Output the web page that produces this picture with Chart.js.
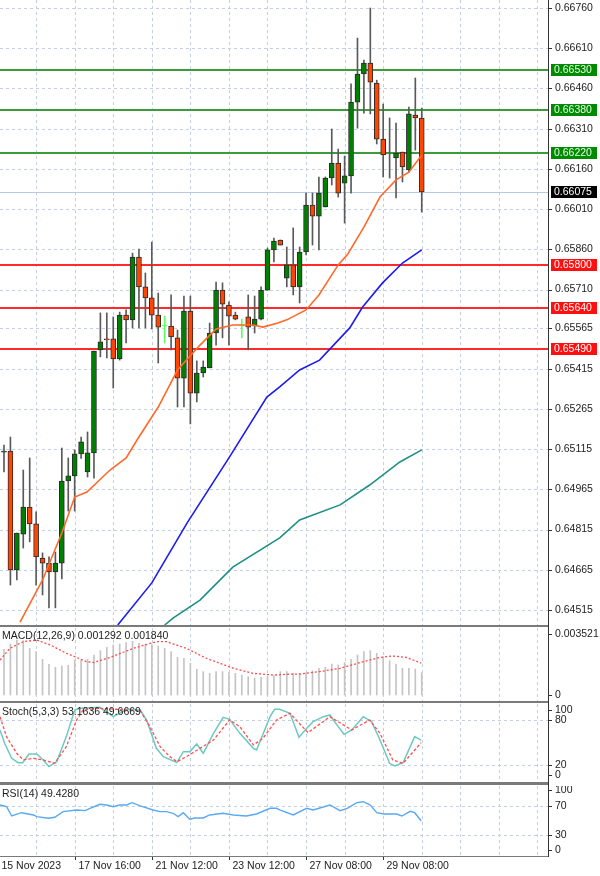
<!DOCTYPE html>
<html><head><meta charset="utf-8">
<script src="https://cdn.jsdelivr.net/npm/chart.js@4.4.0/dist/chart.umd.min.js"></script>
<style>
body{margin:0;background:#fff;width:600px;height:876px;overflow:hidden;position:relative;font-family:"Liberation Sans",Arial,sans-serif}
canvas{position:absolute;left:0}
.sep{position:absolute;left:0;width:549px;background:#7a7a7a}
</style></head><body>
<canvas id="cMain" width="600" height="625" style="top:0px"></canvas>
<canvas id="cMacd" width="600" height="73" style="top:628px"></canvas>
<canvas id="cSto" width="600" height="78" style="top:704px"></canvas>
<canvas id="cRsi" width="600" height="90" style="top:786px"></canvas>
<div class="sep" style="top:625px;height:2px"></div>
<div class="sep" style="top:701px;height:2px"></div>
<div class="sep" style="top:782px;height:3px"></div>
<div class="sep" style="top:856px;height:1px"></div>
<div style="position:absolute;left:548px;top:0;width:1px;height:857px;background:#333"></div>
<script>
const openP=[0.65104,0.65108,0.64664,0.64798,0.64899,0.64836,0.64709,0.64690,0.64657,0.64690,
0.64996,0.65015,0.65097,0.65030,0.65101,0.65485,0.65526,0.65526,0.65451,0.65615,
0.65597,0.65831,0.65720,0.65679,0.65615,0.65574,0.65574,0.65530,0.65380,0.65630,
0.65324,0.65399,0.65418,0.65548,0.65708,0.65652,0.65615,0.65574,0.65608,0.65574,
0.65600,0.65708,0.65858,0.65895,0.65753,0.65802,0.65720,0.65850,0.66025,0.65984,
0.66018,0.66126,0.66182,0.66107,0.66134,0.66409,0.66514,0.66555,0.66480,0.66271,
0.66208,0.66201,0.66223,0.66156,0.66361,0.66350];
const highP=[0.65130,0.65160,0.64802,0.65037,0.65082,0.64881,0.64728,0.64713,0.64731,0.65119,
0.65082,0.65112,0.65160,0.65179,0.65481,0.65623,0.65623,0.65608,0.65626,0.65634,
0.65846,0.65861,0.65772,0.65887,0.65697,0.65611,0.65690,0.65559,0.65686,0.65686,
0.65444,0.65444,0.65585,0.65738,0.65735,0.65664,0.65626,0.65600,0.65690,0.65686,
0.65720,0.65865,0.65902,0.65895,0.65869,0.65940,0.65869,0.66070,0.66070,0.66130,
0.66130,0.66309,0.66234,0.66208,0.66477,0.66648,0.66566,0.66760,0.66491,0.66402,
0.66350,0.66331,0.66223,0.66391,0.66499,0.66387];
const lowP=[0.65030,0.64608,0.64627,0.64746,0.64769,0.64608,0.64571,0.64523,0.64523,0.64631,
0.64884,0.64884,0.65080,0.65011,0.65007,0.65459,0.65455,0.65343,0.65447,0.65511,
0.65567,0.65567,0.65567,0.65563,0.65436,0.65511,0.65485,0.65272,0.65272,0.65209,
0.65291,0.65384,0.65418,0.65503,0.65530,0.65503,0.65597,0.65530,0.65485,0.65548,
0.65597,0.65708,0.65813,0.65876,0.65720,0.65690,0.65660,0.65839,0.65876,0.65858,
0.66018,0.66100,0.66055,0.65958,0.66070,0.66312,0.66368,0.66365,0.66253,0.66130,
0.66126,0.66052,0.66111,0.66148,0.66230,0.65999];
const closeP=[0.65108,0.64664,0.64802,0.64899,0.64836,0.64713,0.64690,0.64657,0.64690,0.64996,
0.65015,0.65097,0.65142,0.65101,0.65481,0.65515,0.65522,0.65451,0.65615,0.65597,
0.65831,0.65720,0.65679,0.65615,0.65570,0.65578,0.65533,0.65380,0.65630,0.65324,
0.65399,0.65421,0.65548,0.65708,0.65656,0.65611,0.65600,0.65578,0.65570,0.65600,
0.65708,0.65858,0.65891,0.65876,0.65802,0.65720,0.65850,0.66025,0.65984,0.66070,
0.66126,0.66182,0.66070,0.66134,0.66409,0.66514,0.66555,0.66484,0.66271,0.66212,
0.66208,0.66219,0.66167,0.66365,0.66350,0.66074];
const limeCandles=[26,38];

const maFastX=[3.5,7,10,12,13.9,17.5,20,21.7,25,28,31.5,34,36.6,39.7,41.3,43.6,45,48,50,53,54.5,57,59.5,62,64,66];
const maFastY=[0.64470,0.64627,0.64802,0.64936,0.64955,0.65037,0.65082,0.65149,0.65272,0.65410,0.65503,0.65563,0.65578,0.65578,0.65570,0.65585,0.65597,0.65634,0.65690,0.65802,0.65843,0.65943,0.66055,0.66119,0.66148,0.66212];
const maMidX=[18.7,24,29.5,36.1,41.9,43.9,47,50.1,54.8,56.8,59.9,63,66];
const maMidY=[0.64459,0.64616,0.64840,0.65086,0.65309,0.65347,0.65410,0.65447,0.65567,0.65645,0.65735,0.65809,0.65858];
const maSlowX=[26,27.3,31.5,36.6,43.9,47,53.3,57.9,62.6,66];
const maSlowY=[0.64459,0.64485,0.64552,0.64675,0.64784,0.64851,0.64907,0.64981,0.65067,0.65112];

const greenLevels=[0.66530,0.66380,0.66220];
const redLevels=[0.65800,0.65640,0.65490];
const lastPrice=0.66075;
const priceTicks=[0.66760,0.66610,0.66460,0.66310,0.66160,0.66010,0.65860,0.65710,0.65565,0.65415,0.65265,0.65115,0.64965,0.64815,0.64665,0.64515];

const macdHist=[0.00264,0.00294,0.00317,0.00314,0.00269,0.00250,0.00206,0.00177,0.00160,0.00167,
0.00171,0.00202,0.00202,0.00206,0.00231,0.00256,0.00275,0.00289,0.00294,0.00302,
0.00310,0.00298,0.00294,0.00291,0.00283,0.00269,0.00250,0.00217,0.00212,0.00183,
0.00148,0.00135,0.00125,0.00135,0.00135,0.00129,0.00125,0.00115,0.00106,0.00098,
0.00102,0.00106,0.00110,0.00135,0.00135,0.00125,0.00125,0.00129,0.00140,0.00154,
0.00160,0.00179,0.00173,0.00187,0.00206,0.00231,0.00250,0.00256,0.00241,0.00221,
0.00198,0.00179,0.00154,0.00154,0.00150,0.00129];
const macdSigX=[0.4,1.9,4,6.1,8.2,10.7,13.9,14.9,17.5,21.1,24.7,26.3,29.4,32.5,36.7,39.8,42.9,46,47,50.1,53.3,56.4,59.5,61.5,63.6,65.9];
const macdSigY=[0.00202,0.00269,0.00308,0.00317,0.00289,0.00241,0.00192,0.00187,0.00217,0.00269,0.00308,0.00308,0.00269,0.00212,0.00154,0.00125,0.00115,0.00121,0.00121,0.00135,0.00154,0.00187,0.00217,0.00225,0.00217,0.00184];

const stoMainX=[0.38,1.1,2.2,3.2,3.9,4.9,6.1,7.1,8.0,9.2,10.7,12.0,12.8,15.9,18.0,20.1,22.2,23.2,24.7,25.8,27.9,28.9,29.9,31.0,32.0,33.6,35.1,36.1,37.7,39.8,40.3,42.4,43.1,43.9,45.5,46.9,48.1,49.1,50.7,51.7,53.0,53.9,55.1,56.9,58.2,59.5,61.0,61.8,63.1,64.9,65.9];
const stoMainY=[66.7,48.9,28.9,23.1,23.1,34.7,34.7,26.7,17.8,24.4,57.8,93.3,95.6,96.9,84.4,94.2,93.3,80,42.2,31.1,23.1,37.8,37.8,48,35.6,62.2,83.6,80.9,62.2,42.2,40,84.4,94.2,94.2,88.9,56.9,68.9,77.8,84.4,86.7,71.1,60.9,66.7,84.4,77.8,53.3,22.2,18.7,23.1,57.8,53.2];
const stoSigX=[0.38,1.4,2.97,4.0,5.6,7.1,8.9,10.7,12.3,13.3,15.9,20.1,22.2,23.7,25.3,26.8,27.9,29.4,31.5,33.6,36.1,37.7,39.8,41.3,43.4,45.5,48.3,51.7,55.1,57.9,59.5,61.5,63.1,65.9];
const stoSigY=[84.4,57.8,35.6,26.7,28.9,26.7,22.2,44.4,80,93.3,95.6,93.3,92.4,71.1,44.4,31.1,24.4,31.1,42.2,53.3,80,71.1,46.7,55.6,80,88.9,63.1,84.4,66.7,80,62.2,26.7,22.2,49.7];

const rsiX=[0.38,1.4,2.2,3.7,5.6,6.1,7.9,8.9,10.2,12.3,13.6,14.4,15.9,17.0,18.0,19.0,20.1,20.9,22.2,24.2,25.3,26.3,27.3,28.1,28.9,29.9,30.7,32.0,33.0,35.1,36.7,38.7,40.3,42.4,43.4,43.9,46.0,48.1,49.1,51.7,53.3,54.4,55.9,56.9,58.0,59.0,60.1,62.1,62.9,64.2,64.9,65.9];
const rsiY=[70.9,68.6,55.9,60.4,57.3,55.0,52.8,54.1,61.8,64.1,63.2,66.4,71.9,70.9,68.6,70.9,70.9,74.1,69.6,64.1,61.8,61.8,59.6,55.0,60.4,51.4,53.2,53.2,57.3,59.6,57.3,55.9,58.6,66.4,66.4,64.1,57.3,66.4,64.1,70.9,63.2,66.4,74.1,75.4,70.9,60.4,58.6,58.6,55.9,62.3,60.4,49.4];

const xTickIdx=[0,12,24,36,48,60];
const xTickLabels=['15 Nov 2023','17 Nov 16:00','21 Nov 12:00','23 Nov 12:00','27 Nov 08:00','29 Nov 08:00'];

const FONT='"Liberation Sans", Arial, sans-serif';
const FS=10.5;
const idx=openP.map((_,i)=>i+1);
const XMIN=0.38, XMAX=85.8;
const pts=(xs,ys)=>xs.map((x,i)=>({x:x,y:ys[i]}));

function gridPlugin(hVals){
  return {id:'grid',beforeDatasetsDraw(ch){
    const {ctx,chartArea:a,scales:{x,y}}=ch;
    ctx.save();ctx.strokeStyle='#c5cfe3';ctx.lineWidth=1;ctx.setLineDash([3,3]);
    for(let v=6;v<XMAX;v+=6){const px=Math.round(x.getPixelForValue(v))+0.5;ctx.beginPath();ctx.moveTo(px,a.top);ctx.lineTo(px,a.bottom);ctx.stroke();}
    hVals.forEach(v=>{const py=Math.round(y.getPixelForValue(v))+0.5;ctx.beginPath();ctx.moveTo(a.left,py);ctx.lineTo(a.right,py);ctx.stroke();});
    ctx.setLineDash([]);ctx.strokeStyle='#333';
    ch.scales.y.ticks.forEach(t=>{const py=Math.round(y.getPixelForValue(t.value))+0.5;ctx.beginPath();ctx.moveTo(a.right,py);ctx.lineTo(a.right+3,py);ctx.stroke();});
    ctx.restore();}};
}
function titlePlugin(txt){
  return {id:'ttl',afterDraw(ch){const c=ch.ctx;c.save();c.font=FS+'px '+FONT;c.fillStyle='#222';c.textBaseline='top';c.fillText(txt,2,3);c.restore();}};
}
function yScale(min,max,ticks,labelFn){
  return {position:'right',min:min,max:max,afterFit:s=>{s.width=51;s.paddingTop=0;s.paddingBottom=0;},
    afterBuildTicks:s=>{s.ticks=ticks.map(v=>({value:v}));},
    grid:{display:false,tickLength:0},border:{display:false},
    ticks:{autoSkip:false,padding:6,color:'#222',font:{family:FONT,size:FS},callback:(v,i)=>labelFn(v,i)}};
}
const xScale={type:'linear',min:XMIN,max:XMAX,display:false,offset:false};
const base={responsive:false,animation:false,layout:{padding:0},plugins:{legend:{display:false},tooltip:{enabled:false}}};

// Main chart
const up=i=>closeP[i]>=openP[i];
const bodyColor=idx.map((n,i)=>limeCandles.includes(n)?'#5dff5d':(up(i)?'#008000':'#ff4500'));
const wickColor=idx.map((n,i)=>limeCandles.includes(n)?'#5dff5d':'#5a5a5a');
const bodyBorder=idx.map((n,i)=>limeCandles.includes(n)?'#5dff5d':'#2a2a2a');
const levelPlugin={id:'levels',beforeDatasetsDraw(ch){
  const {ctx,chartArea:a,scales:{y}}=ch;ctx.save();
  ctx.lineWidth=1;ctx.strokeStyle='#b7c9e2';let py=Math.round(y.getPixelForValue(lastPrice))+0.5;
  ctx.beginPath();ctx.moveTo(a.left,py);ctx.lineTo(a.right,py);ctx.stroke();
  ctx.lineWidth=2;
  greenLevels.forEach(v=>{ctx.strokeStyle='#3c9c3c';const p=Math.round(y.getPixelForValue(v));ctx.beginPath();ctx.moveTo(a.left,p);ctx.lineTo(a.right,p);ctx.stroke();});
  redLevels.forEach(v=>{ctx.strokeStyle='#ff2a2a';const p=Math.round(y.getPixelForValue(v));ctx.beginPath();ctx.moveTo(a.left,p);ctx.lineTo(a.right,p);ctx.stroke();});
  ctx.restore();},
 afterDraw(ch){const {ctx,chartArea:a,scales:{y}}=ch;ctx.save();ctx.font=FS+'px '+FONT;ctx.textBaseline='middle';
  const box=(v,bg,fg)=>{const p=Math.round(y.getPixelForValue(v));ctx.fillStyle=bg;ctx.fillRect(a.right+2,p-6,46,12);ctx.fillStyle=fg;ctx.fillText(v.toFixed(5),a.right+5,p+0.5);};
  greenLevels.forEach(v=>box(v,'#008a00','#e8ffe8'));
  redLevels.forEach(v=>box(v,'#ff1010','#ffffff'));
  box(lastPrice,'#000','#fff');ctx.restore();}};
new Chart(document.getElementById('cMain'),{type:'bar',
 data:{datasets:[
  {type:'line',data:pts(maSlowX,maSlowY),borderColor:'#1e8f85',borderWidth:1.6,pointRadius:0,order:5},
  {type:'line',data:pts(maMidX,maMidY),borderColor:'#1c1cf0',borderWidth:1.6,pointRadius:0,order:4},
  {type:'bar',data:idx.map((n,i)=>({x:n,y:[lowP[i],highP[i]]})),backgroundColor:wickColor,barThickness:1,order:3},
  {type:'bar',data:idx.map((n,i)=>({x:n,y:[Math.min(openP[i],closeP[i]),Math.max(openP[i],closeP[i])]})),backgroundColor:bodyColor,borderColor:bodyBorder,borderWidth:1,borderSkipped:false,barThickness:5,order:2},
  {type:'line',data:pts(maFastX,maFastY),borderColor:'#ff6a2a',borderWidth:1.6,pointRadius:0,order:1}
 ]},
 options:{...base,datasets:{bar:{grouped:false}},scales:{x:xScale,y:yScale(0.64459,0.66790,priceTicks,v=>v.toFixed(5))}},
 plugins:[gridPlugin(priceTicks),levelPlugin]});

// MACD
new Chart(document.getElementById('cMacd'),{type:'bar',
 data:{datasets:[
  {type:'line',data:pts(macdSigX,macdSigY),borderColor:'#ff4b4b',borderWidth:1.3,borderDash:[2,2],pointRadius:0,order:1},
  {type:'bar',data:idx.map((n,i)=>({x:n,y:macdHist[i]})),backgroundColor:'#c4c4c4',barThickness:1,order:2}
 ]},
 options:{...base,scales:{x:xScale,y:yScale(-0.000346,0.003867,[0.003521,0],v=>v===0?'0':v.toFixed(6))}},
 plugins:[gridPlugin([]),titlePlugin('MACD(12,26,9) 0.001292 0.001840')]});

// Stochastic
const stoLbl={93.3:'100',80:'80',20:'20',6.7:'0'};
new Chart(document.getElementById('cSto'),{type:'line',
 data:{datasets:[
  {data:pts(stoSigX,stoSigY),borderColor:'#ff5050',borderWidth:1.3,borderDash:[3,2],pointRadius:0},
  {data:pts(stoMainX,stoMainY),borderColor:'#6cc9c2',borderWidth:1.5,pointRadius:0}
 ]},
 options:{...base,scales:{x:xScale,y:yScale(-2.7,101.3,[93.3,80,20,6.7],v=>stoLbl[v])}},
 plugins:[gridPlugin([80,20]),titlePlugin('Stoch(5,3,3) 53.1636 49.6669')]});

// RSI
const rsiLbl={91.4:'100',70:'70',30:'30',9.5:'0'};
const xLabelPlugin={id:'xl',afterDraw(ch){const {ctx,chartArea:a,scales:{x}}=ch;ctx.save();ctx.font=FS+'px '+FONT;ctx.fillStyle='#222';ctx.textBaseline='middle';ctx.strokeStyle='#333';
  xTickIdx.forEach((v,i)=>{const px=Math.round(x.getPixelForValue(v))+0.5;ctx.beginPath();ctx.moveTo(px,a.bottom);ctx.lineTo(px,a.bottom+4);ctx.stroke();ctx.fillText(xTickLabels[i],px+3,a.bottom+10);});
  ctx.restore();}};
new Chart(document.getElementById('cRsi'),{type:'line',
 data:{datasets:[{data:pts(rsiX,rsiY),borderColor:'#5aa9f2',borderWidth:1.4,pointRadius:0}]},
 options:{...base,layout:{padding:{bottom:20}},scales:{x:xScale,y:yScale(1.35,96.8,[91.4,70,30,9.5],v=>rsiLbl[v])}},
 plugins:[gridPlugin([70,30]),titlePlugin('RSI(14) 49.4280'),xLabelPlugin]});
</script></body></html>
